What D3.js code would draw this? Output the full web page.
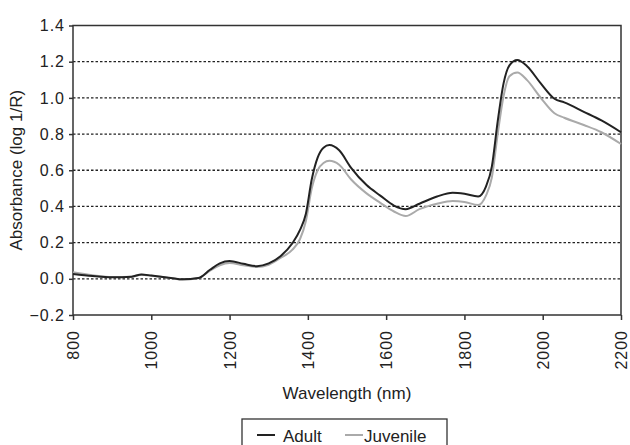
<!DOCTYPE html>
<html>
<head>
  <meta charset="utf-8">
  <title>Absorbance vs Wavelength</title>
  <script src="https://d3js.org/d3.v7.min.js"></script>
  <style>
    body { margin: 0; background: #fff; }
    text { font-family: "Liberation Sans Narrow", "Liberation Sans", Arial, sans-serif; fill: #222; }
  </style>
</head>
<body>
  <svg id="chart" width="630" height="445"></svg>

  <script>
    // Define the data
    var wavelength = [800, 850, 900, 950, 975, 1000, 1050, 1080, 1120, 1150, 1175, 1200, 1235, 1270,
      1300, 1330, 1360, 1380, 1395, 1410, 1425, 1440, 1455, 1480, 1510, 1550, 1585, 1620, 1650,
      1685, 1730, 1770, 1800, 1835, 1855, 1870, 1885, 1900, 1915, 1935, 1960, 1995, 2030, 2055,
      2105, 2150, 2200];

    var adult = [0.027, 0.015, 0.008, 0.012, 0.024, 0.018, 0.005, -0.003, 0.004, 0.05, 0.085, 0.098,
      0.083, 0.07, 0.085, 0.125, 0.195, 0.27, 0.36, 0.55, 0.67, 0.725, 0.739, 0.71, 0.615, 0.518,
      0.46, 0.405, 0.385, 0.415, 0.455, 0.476, 0.47, 0.455, 0.51, 0.62, 0.87, 1.08, 1.18, 1.209,
      1.175, 1.08, 0.995, 0.975, 0.923, 0.875, 0.81];

    var juvenile = [0.036, 0.02, 0.01, 0.012, 0.022, 0.017, 0.004, -0.004, 0.003, 0.045, 0.075, 0.088,
      0.075, 0.065, 0.078, 0.115, 0.16, 0.22, 0.32, 0.5, 0.6, 0.64, 0.652, 0.63, 0.55, 0.472,
      0.42, 0.372, 0.347, 0.385, 0.415, 0.43, 0.425, 0.408, 0.46, 0.56, 0.8, 1.01, 1.12, 1.14,
      1.098, 1.0, 0.915, 0.89, 0.85, 0.81, 0.745];

    var xTicks = [800, 1000, 1200, 1400, 1600, 1800, 2000, 2200];
    var yTicks = [-0.2, 0.0, 0.2, 0.4, 0.6, 0.8, 1.0, 1.2, 1.4];

    var series = [
      { name: "Adult", values: adult, color: "#222222" },
      { name: "Juvenile", values: juvenile, color: "#aaaaaa" }
    ];

    // Chart dimensions
    var margin = { top: 25.5, right: 9, bottom: 130, left: 73 };
    var width = 630 - margin.left - margin.right;
    var height = 445 - margin.top - margin.bottom;

    var svg = d3.select("#chart")
      .append("g")
      .attr("transform", "translate(" + margin.left + "," + margin.top + ")");

    // Scales
    var xScale = d3.scaleLinear().domain([800, 2200]).range([0, width]);
    var yScale = d3.scaleLinear().domain([-0.2, 1.4]).range([height, 0]);

    // Dotted gridlines
    svg.selectAll("line.grid")
      .data(yTicks.filter(function(d) { return d > -0.2 && d < 1.4; }))
      .enter()
      .append("line")
      .attr("class", "grid")
      .attr("x1", 0)
      .attr("x2", width)
      .attr("y1", function(d) { return yScale(d); })
      .attr("y2", function(d) { return yScale(d); })
      .attr("stroke", "#222")
      .attr("stroke-width", 1.3)
      .attr("stroke-dasharray", "2.5,2");

    // Frame
    svg.append("rect")
      .attr("width", width)
      .attr("height", height)
      .attr("fill", "none")
      .attr("stroke", "#333")
      .attr("stroke-width", 1.5);

    // Lines (juvenile drawn first so adult sits on top)
    var line = d3.line()
      .x(function(d, i) { return xScale(wavelength[i]); })
      .y(function(d) { return yScale(d); })
      .curve(d3.curveMonotoneX);

    series.slice().reverse().forEach(function(s) {
      svg.append("path")
        .datum(s.values)
        .attr("d", line)
        .attr("fill", "none")
        .attr("stroke", s.color)
        .attr("stroke-width", 2);
    });

    // x-axis
    var xAxis = svg.append("g")
      .attr("transform", "translate(0," + height + ")")
      .call(d3.axisBottom(xScale).tickValues(xTicks).tickSize(5).tickSizeOuter(0).tickFormat(d3.format("d")));
    xAxis.select(".domain").remove();
    xAxis.selectAll("line").attr("stroke", "#333").attr("stroke-width", 1.5);
    xAxis.selectAll("text")
      .attr("transform", "rotate(-90)")
      .attr("x", -15)
      .attr("y", 0)
      .attr("dy", "0.35em")
      .attr("text-anchor", "end")
      .attr("font-size", 16)
      .style("letter-spacing", "1px");

    // y-axis
    var yAxis = svg.append("g")
      .call(d3.axisLeft(yScale).tickValues(yTicks).tickSize(4).tickSizeOuter(0)
        .tickFormat(function(d) { return d3.format(".1f")(d).replace("-", "\u2212"); }));
    yAxis.select(".domain").remove();
    yAxis.selectAll("line").attr("stroke", "#333").attr("stroke-width", 1.5);
    yAxis.selectAll("text")
      .attr("x", -8)
      .attr("font-size", 16)
      .style("letter-spacing", "1px");

    // Axis labels
    svg.append("text")
      .attr("x", width / 2)
      .attr("y", height + 84)
      .attr("text-anchor", "middle")
      .attr("font-size", 17)
      .text("Wavelength (nm)");

    svg.append("text")
      .attr("transform", "rotate(-90)")
      .attr("x", -height / 2)
      .attr("y", -51)
      .attr("text-anchor", "middle")
      .attr("font-size", 17)
      .text("Absorbance (log 1/R)");

    // Legend
    var legend = d3.select("#chart").append("g");
    legend.append("rect")
      .attr("x", 242).attr("y", 419)
      .attr("width", 205).attr("height", 30)
      .attr("fill", "none").attr("stroke", "#333").attr("stroke-width", 1.3);

    var legendX = [257, 345];
    var textX = [283, 364];
    series.forEach(function(s, i) {
      legend.append("line")
        .attr("x1", legendX[i]).attr("x2", legendX[i] + 18)
        .attr("y1", 435).attr("y2", 435)
        .attr("stroke", s.color).attr("stroke-width", 2);
      legend.append("text")
        .attr("x", textX[i]).attr("y", 442)
        .attr("font-size", 17)
        .text(s.name);
    });
  </script>
</body>
</html>
